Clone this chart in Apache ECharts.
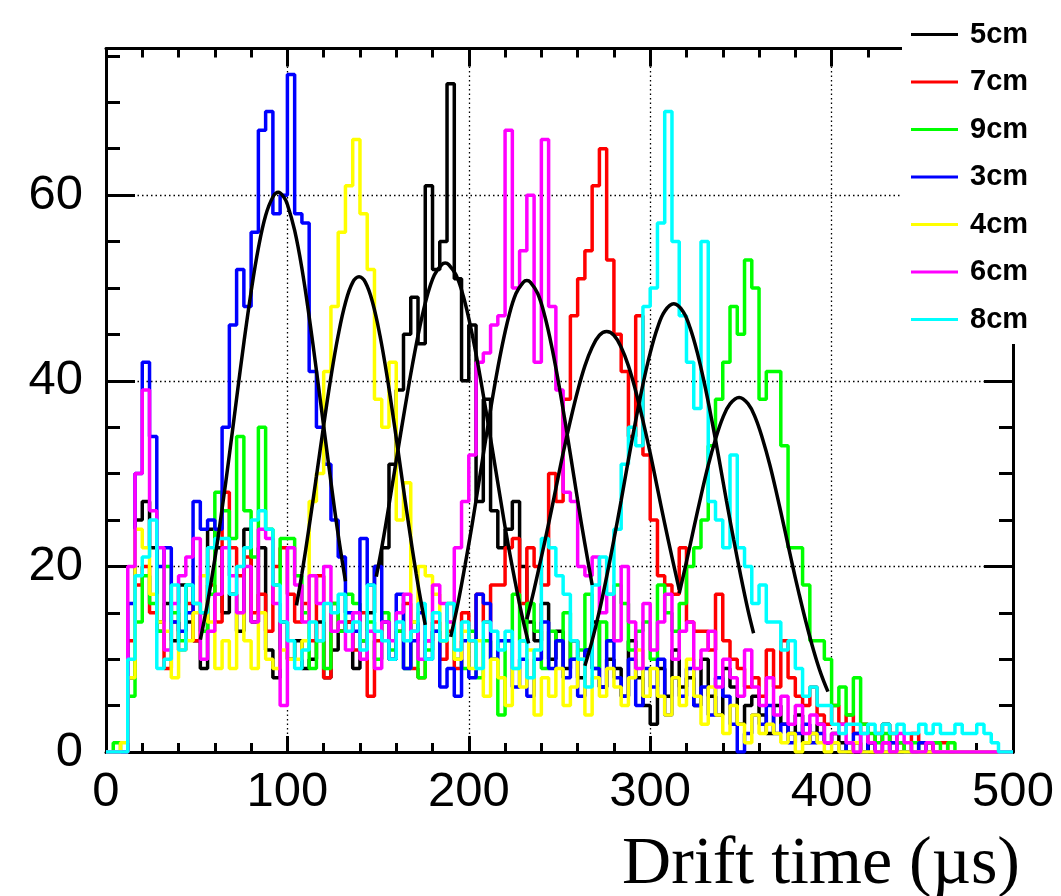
<!DOCTYPE html>
<html><head><meta charset="utf-8">
<script src="https://cdn.jsdelivr.net/npm/echarts@6/dist/echarts.min.js"></script>
<style>html,body{margin:0;padding:0;background:#fff}#c{width:1061px;height:896px}</style>
</head><body><div id="c"></div>
<script>
// ---- data ----
const binWidth = 4; // µs per bin, bins start at 0
const xTickValues = [0, 100, 200, 300, 400, 500];
const yTickValues = [0, 20, 40, 60];
const legendOrder = ['5cm', '7cm', '9cm', '3cm', '4cm', '6cm', '8cm'];

const h3cm = [0,0,0,16,30,42,34,20,22,14,13,15,27,24,25,24,35,46,52,48,56,67,69,58,60,
  73,58,57,41,35,31,25,21,15,13,23,18,20,14,10,17,9,12,15,10,13,7,9,6,12,
  8,17,16,10,12,12,7,10,6,10,14,9,12,8,10,6,11,9,7,12,8,6,10,5,9,
  7,10,4,8,6,9,5,7,4,8,6,3,0,2,4,3,5,2,3,1,2,3,1,2,1,
  1,0,1,2,0,1,0,0,1,0,0,0,1,0,0,0,0,0,0,0,0,0,0,0,0];
const h4cm = [0,0,1,8,24,22,17,14,13,8,11,12,15,19,14,9,12,9,15,12,9,15,10,9,11,
  10,10,12,27,30,41,48,56,61,66,58,52,38,35,42,25,29,14,20,19,17,12,14,10,13,
  9,12,6,10,8,5,9,7,11,4,8,6,9,5,7,10,4,8,6,9,7,5,8,11,6,
  9,6,4,8,5,10,6,3,7,4,2,5,3,1,4,2,3,2,1,2,0,1,2,1,0,
  1,0,0,1,0,0,0,0,0,0,0,0,0,0,0,0,0,0,0,0,0,0,0,0,0];
const h5cm = [0,0,0,8,25,27,22,14,16,12,18,14,12,9,24,22,15,17,13,24,14,22,11,8,14,
  10,12,9,10,14,8,11,13,14,9,12,15,20,22,31,39,45,49,44,61,52,55,72,51,40,
  46,27,38,26,22,24,27,20,14,12,16,10,13,9,12,8,11,14,7,10,9,6,12,8,5,
  3,9,6,11,7,8,5,10,6,4,9,7,3,5,6,4,2,5,3,2,4,1,2,3,1,
  2,1,0,1,0,1,0,3,0,0,0,0,0,1,0,0,0,0,0,0,0,0,0,0,0];
const h6cm = [0,0,0,20,30,39,26,22,11,16,19,21,23,10,13,17,22,19,15,20,14,24,23,16,5,
  22,18,14,19,16,20,13,14,11,15,10,13,9,14,12,15,17,13,10,12,18,16,14,22,27,
  32,42,43,46,47,67,50,54,60,42,66,48,39,28,27,20,19,21,15,17,12,20,14,9,16,
  11,14,17,10,13,14,9,11,13,7,10,8,6,11,7,5,8,4,6,3,5,2,4,3,1,
  2,3,1,0,2,1,0,1,0,2,1,0,0,1,0,0,0,0,0,0,0,0,0,0,0];
const h7cm = [0,0,0,12,18,20,15,13,9,14,11,16,12,15,18,14,28,22,19,21,15,17,13,20,22,
  17,14,16,12,19,8,16,13,14,11,15,6,12,14,10,13,16,9,8,12,14,10,13,9,15,
  12,17,14,18,18,22,23,16,22,20,18,30,27,38,47,51,54,61,65,53,45,41,34,47,32,
  25,19,18,17,22,14,13,13,11,17,12,10,9,7,8,6,11,7,12,8,6,5,7,4,3,
  5,3,4,2,3,1,2,1,2,1,0,2,1,0,1,1,0,0,0,0,0,0,0,0,0];
const h8cm = [0,0,0,10,19,21,25,9,10,18,11,18,16,15,22,23,23,17,20,22,25,26,24,18,14,
  12,9,11,14,12,16,15,17,13,14,11,18,13,12,10,14,12,13,16,10,15,12,16,11,14,
  12,9,14,13,11,13,9,12,8,11,23,22,19,17,12,10,7,18,21,17,24,31,35,33,48,
  50,57,69,55,47,42,37,55,27,25,22,32,22,20,16,18,14,14,11,12,9,6,7,5,5,
  3,2,3,3,2,3,2,3,2,3,2,2,3,2,3,2,2,3,2,2,3,2,1,0,0];
const h9cm = [0,1,0,6,14,19,16,13,20,15,12,18,16,13,17,28,26,23,34,26,21,35,24,18,23,
  23,19,15,9,12,9,16,13,17,16,12,14,10,15,11,13,9,14,8,11,13,12,16,10,9,
  13,8,12,10,4,12,17,12,16,13,9,13,12,15,10,11,17,9,14,12,18,16,11,13,14,
  10,18,15,13,16,20,22,25,33,38,42,48,45,53,50,38,41,41,33,22,22,18,12,12,10,
  5,7,4,8,3,2,1,2,1,1,0,1,0,1,1,0,1,0,0,0,0,0,0,0,0];

// Gaussian fit curves: [time µs, counts]
const fit3cm = [[52,12.1],[56,16.1],[60,20.8],[64,26.2],[68,32.0],[72,38.1],[76,44.1],[80,49.6],[84,54.3],[88,57.8],[92,59.8],[95,60.3],[98,59.8],[100,59.0],[104,56.2],[108,52.1],[112,46.9],[116,41.1],[120,35.1],[124,29.1],[128,23.4],[132,18.4]];
const fit4cm = [[105,15.8],[108,19.2],[112,24.3],[116,29.7],[120,35.2],[124,40.4],[128,44.9],[132,48.4],[136,50.6],[139.5,51.2],[143,50.6],[147,48.4],[151,44.9],[155,40.4],[159,35.2],[163,29.7],[167,24.3],[171,19.2],[174,15.8],[176,13.7]];
const fit5cm = [[149,18.9],[153,23.1],[157,27.8],[161,32.6],[165,37.3],[169,41.8],[173,45.8],[177,49.1],[181,51.4],[185,52.5],[187,52.7],[189,52.5],[193,51.4],[197,49.1],[201,45.8],[205,41.8],[209,37.3],[213,32.6],[217,27.8],[221,23.1],[225,18.9],[229,15.0],[233,11.7]];
const fit6cm = [[190,12.4],[194,16.0],[198,20.2],[202,24.7],[206,29.6],[210,34.5],[214,39.2],[218,43.4],[222,46.9],[226,49.4],[230,50.6],[232,50.8],[234,50.6],[238,49.4],[242,46.9],[246,43.4],[250,39.2],[254,34.5],[258,29.6],[262,24.7],[266,20.2],[268,18.0]];
const fit7cm = [[232,14.3],[236,17.5],[240,21.0],[244,24.6],[248,28.4],[252,32.2],[256,35.7],[260,38.9],[264,41.6],[268,43.6],[272,44.9],[276,45.3],[280,44.9],[284,43.6],[288,41.6],[292,38.9],[296,35.7],[300,32.2],[304,28.4],[308,24.6],[312,21.0],[316,17.5]];
const fit8cm = [[264,9.3],[268,12.0],[272,15.2],[276,18.9],[280,22.9],[284,27.1],[288,31.5],[292,35.7],[296,39.6],[300,43.0],[304,45.7],[308,47.5],[313,48.3],[318,47.5],[322,45.7],[326,43.0],[330,39.6],[334,35.7],[338,31.5],[342,27.1],[346,22.9],[350,18.9],[354,15.2],[357,12.8]];
const fit9cm = [[316,17.1],[320,20.5],[324,24.1],[328,27.6],[332,30.9],[336,33.7],[340,36.0],[344,37.5],[349,38.2],[354,37.5],[358,36.0],[362,33.7],[366,30.9],[370,27.6],[374,24.1],[378,20.5],[382,17.1],[386,13.9],[390,11.0],[394,8.5],[398,6.5]];

// ---- chart ----
const histDefs = [
  ['5cm', h5cm, '#000000'], ['7cm', h7cm, '#ff0000'], ['9cm', h9cm, '#00ff00'],
  ['3cm', h3cm, '#0000ff'], ['4cm', h4cm, '#ffff00'], ['6cm', h6cm, '#ff00ff'],
  ['8cm', h8cm, '#00ffff']
];
const fits = [fit5cm, fit7cm, fit9cm, fit3cm, fit4cm, fit6cm, fit8cm];

function histData(vals) {
  const d = vals.map((v, i) => [i * binWidth, v]);
  d.push([vals.length * binWidth, vals[vals.length - 1]]);
  return d;
}

const series = [];
histDefs.forEach(([name, vals, color]) => {
  series.push({
    name, type: 'line', step: 'end', data: histData(vals),
    showSymbol: false, symbol: 'none', color,
    lineStyle: { color, width: 3.5 }, z: 2, silent: true
  });
});
fits.forEach((f, i) => {
  series.push({
    name: 'fit' + i, type: 'line', data: f, smooth: 0.4,
    showSymbol: false, symbol: 'none', color: '#000',
    lineStyle: { color: '#000', width: 3.5 }, z: 3, silent: true
  });
});

const YMAX = 75.8;
const blk = { color: '#000', width: 3 };
const font = 'Liberation Sans';

const option = {
  animation: false,
  backgroundColor: '#fff',
  grid: { left: 106, right: 48, top: 48.5, bottom: 144, containLabel: false },
  legend: {
    orient: 'vertical', left: 902, top: 0,
    padding: [20, 30, 10, 9],
    backgroundColor: '#fff',
    itemWidth: 47, itemHeight: 3, itemGap: 18.5,
    icon: 'rect', selectedMode: false,
    data: legendOrder,
    textStyle: { fontFamily: font, fontWeight: 'bold', fontSize: 29, color: '#000', padding: [0, 0, 0, 7] },
    z: 10
  },
  xAxis: [
    { type: 'value', min: 0, max: 500, interval: 100, position: 'bottom',
      axisLine: { show: true, onZero: false, lineStyle: blk },
      axisTick: { show: true, inside: true, length: 16, lineStyle: blk },
      minorTick: { show: true, splitNumber: 5, length: 9, lineStyle: blk },
      axisLabel: { show: true, margin: 16, fontSize: 49, color: '#000', fontFamily: font,
        formatter: v => xTickValues.includes(v) ? String(v) : '' },
      splitLine: { show: true, lineStyle: { color: '#000', width: 1.3, type: [1.5, 3] } } },
    { type: 'value', min: 0, max: 500, interval: 100, position: 'top',
      axisLine: { show: true, onZero: false, lineStyle: blk },
      axisTick: { show: true, inside: true, length: 18, lineStyle: blk },
      minorTick: { show: true, splitNumber: 5, length: 9, lineStyle: blk },
      axisLabel: { show: false }, splitLine: { show: false } }
  ],
  yAxis: [
    { type: 'value', min: 0, max: YMAX, interval: 20, position: 'left',
      axisLine: { show: true, onZero: false, lineStyle: blk },
      axisTick: { show: true, inside: true, length: 29, lineStyle: blk },
      axisLabel: { show: true, margin: 23, fontSize: 49, color: '#000', fontFamily: font,
        formatter: v => yTickValues.includes(v) ? String(v) : '' },
      splitLine: { show: true, lineStyle: { color: '#000', width: 1.3, type: [1.5, 3] } } },
    { type: 'value', min: 0, max: YMAX, interval: 5, position: 'left',
      axisLine: { show: false, onZero: false },
      axisTick: { show: true, inside: true, length: 14, lineStyle: blk },
      axisLabel: { show: false }, splitLine: { show: false } },
    { type: 'value', min: 0, max: YMAX, interval: 20, position: 'right',
      axisLine: { show: true, onZero: false, lineStyle: blk },
      axisTick: { show: true, inside: true, length: 29, lineStyle: blk },
      axisLabel: { show: false }, splitLine: { show: false } },
    { type: 'value', min: 0, max: YMAX, interval: 5, position: 'right',
      axisLine: { show: false, onZero: false },
      axisTick: { show: true, inside: true, length: 14, lineStyle: blk },
      axisLabel: { show: false }, splitLine: { show: false } }
  ],
  graphic: [{
    type: 'text', x: 1020, y: 865, z: 20,
    style: { text: 'Drift time (µs)', font: '68px "Liberation Serif"', fill: '#000',
      textAlign: 'right', textVerticalAlign: 'middle', align: 'right', verticalAlign: 'middle' }
  }],
  series
};

const chart = echarts.init(document.getElementById('c'), null, { renderer: 'canvas' });
chart.setOption(option);
</script>
</body></html>
